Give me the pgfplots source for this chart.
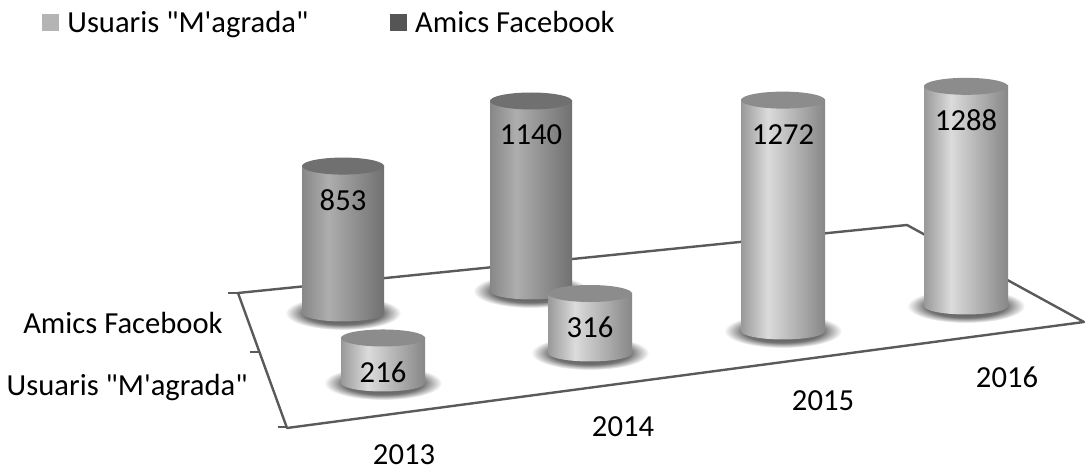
\documentclass[border=0pt]{standalone}
\usepackage{fontspec}
\setmainfont{Carlito}[Ligatures=TeXOff]
\usepackage{pgfplots}
\usepackage{pgfplotstable}
\pgfplotsset{compat=1.18}
\usetikzlibrary{shapes.geometric}

\definecolor{floorc}{HTML}{5A5A5A}
\definecolor{topF}{HTML}{8C8C8C}
\definecolor{topB}{HTML}{707070}
\definecolor{legF}{HTML}{B4B4B4}
\definecolor{legB}{HTML}{555555}

% left edge / highlight / right edge of the cylinder bodies
\pgfdeclarehorizontalshading{cylF}{100bp}{color(0bp)=(black!40); color(25bp)=(black!40); color(41bp)=(black!14); color(75bp)=(black!47); color(100bp)=(black!47)}
\pgfdeclarehorizontalshading{cylB}{100bp}{color(0bp)=(black!47); color(25bp)=(black!47); color(41bp)=(black!32); color(75bp)=(black!56); color(100bp)=(black!56)}
% soft floor shadow
\pgfdeclareradialshading{floorshadow}{\pgfpoint{0bp}{0bp}}{color(0bp)=(black!75); color(17bp)=(black!55); color(25bp)=(white); color(50bp)=(white)}

\newcommand{\lbl}{\fontsize{15.3bp}{18bp}\selectfont}

% x = centre, b = floor level, k = depth factor, v = value (picture units of 0.5bp)
\pgfplotstableread{
x   b    k      v
343 157  0.935  853
531 179  0.915  1140
}\backrow
\pgfplotstableread{
x   b    k      v
383 87   1.00   216
590 117  0.95   316
783 139  1.00   1272
966 164  0.94   1288
}\frontrow

\newcommand{\hgt}{\thisrow{k}*(0.176*\thisrow{v}+7)}

\tikzset{
  ellip/.style={ellipse, inner sep=0pt, anchor=center, minimum height=8.5bp},
  shad/.style={ellipse, inner sep=0pt, anchor=center, minimum height=17bp,
    shading=floorshadow},
  body/.style={rectangle, inner sep=0pt, anchor=south, minimum height=\hh*0.5bp},
}
\pgfplotsset{
  chart/.style={x=0.5bp, y=0.5bp, xmin=0, xmax=1086, ymin=0, ymax=470,
    hide axis, clip=false},
}

\begin{document}
\begin{tikzpicture}
% back row: Amics Facebook
\begin{axis}[chart]
  \path (rel axis cs:0,0) rectangle (rel axis cs:1,1);
  \addplot[forget plot, draw=floorc, line width=1.2bp, line join=round]
    coordinates {(238,177) (287,42) (1084,148) (907,245) (238,177)};
  \addplot[forget plot, draw=floorc, line width=1.2bp] coordinates {(228,177) (238,177)};
  \addplot[forget plot, draw=floorc, line width=1.2bp] coordinates {(250,118) (259,118)};
  \addplot[forget plot, draw=floorc, line width=1.2bp] coordinates {(278,43) (287,43)};

  \addplot[forget plot, draw=none, nodes near coords={},
    nodes near coords style={shad, minimum width=58bp}]
    table[x=x, y=b] {\backrow};
  \addplot[forget plot, draw=none, nodes near coords={},
    nodes near coords style={ellip, minimum width=41bp, shading=cylB}]
    table[x=x, y=b] {\backrow};
  \addplot[forget plot, draw=none, nodes near coords={},
    visualization depends on={\hgt \as \hh},
    nodes near coords style={body, minimum width=41bp, shading=cylB}]
    table[x=x, y=b] {\backrow};
  \addplot[forget plot, draw=none, nodes near coords={},
    nodes near coords style={ellip, minimum width=41bp, fill=topB}]
    table[x=x, y expr=\thisrow{b}+\hgt] {\backrow};
  \addplot[forget plot, draw=none, point meta=explicit symbolic, nodes near coords,
    nodes near coords style={anchor=center, yshift=-17bp, text=black, font=\lbl}]
    table[x=x, y expr=\thisrow{b}+\hgt, meta=v] {\backrow};
\end{axis}
% front row: Usuaris "M'agrada"
\begin{axis}[chart,
  legend columns=2,
  legend style={draw=none, fill=none, at={(axis cs:42,447)}, anchor=west,
    font=\lbl, inner sep=0pt,
    /tikz/every even column/.append style={column sep=39bp}},
  legend image code/.code={\fill[#1] (0bp,-4.25bp) rectangle (8.5bp,4.25bp);
    \path (10.5bp,0bp);},
]
  \addplot[forget plot, draw=none, nodes near coords={},
    nodes near coords style={shad, minimum width=59bp}]
    table[x=x, y=b] {\frontrow};
  \addplot[forget plot, draw=none, nodes near coords={},
    nodes near coords style={ellip, minimum width=42bp, shading=cylF}]
    table[x=x, y=b] {\frontrow};
  \addplot[forget plot, draw=none, nodes near coords={},
    visualization depends on={\hgt \as \hh},
    nodes near coords style={body, minimum width=42bp, shading=cylF}]
    table[x=x, y=b] {\frontrow};
  \addplot[forget plot, draw=none, nodes near coords={},
    nodes near coords style={ellip, minimum width=42bp, fill=topF}]
    table[x=x, y expr=\thisrow{b}+\hgt] {\frontrow};
  \addplot[forget plot, draw=none, point meta=explicit symbolic, nodes near coords,
    nodes near coords style={anchor=center, yshift=-17bp, text=black, font=\lbl}]
    table[x=x, y expr=\thisrow{b}+\hgt, meta=v] {\frontrow};

  \addlegendimage{fill=legF, draw=none}
  \addlegendentry{Usuaris "M'agrada"}
  \addlegendimage{fill=legB, draw=none}
  \addlegendentry{Amics Facebook}

  \node[anchor=east, inner sep=0pt, font=\lbl] at (axis cs:223,147) {Amics Facebook};
  \node[anchor=east, inner sep=0pt, font=\lbl] at (axis cs:248,82) {Usuaris "M'agrada"};
  \node[inner sep=0pt, font=\lbl] at (axis cs:404,15) {2013};
  \node[inner sep=0pt, font=\lbl] at (axis cs:623,43) {2014};
  \node[inner sep=0pt, font=\lbl] at (axis cs:823,69) {2015};
  \node[inner sep=0pt, font=\lbl] at (axis cs:1007,93) {2016};
\end{axis}
\end{tikzpicture}
\end{document}
